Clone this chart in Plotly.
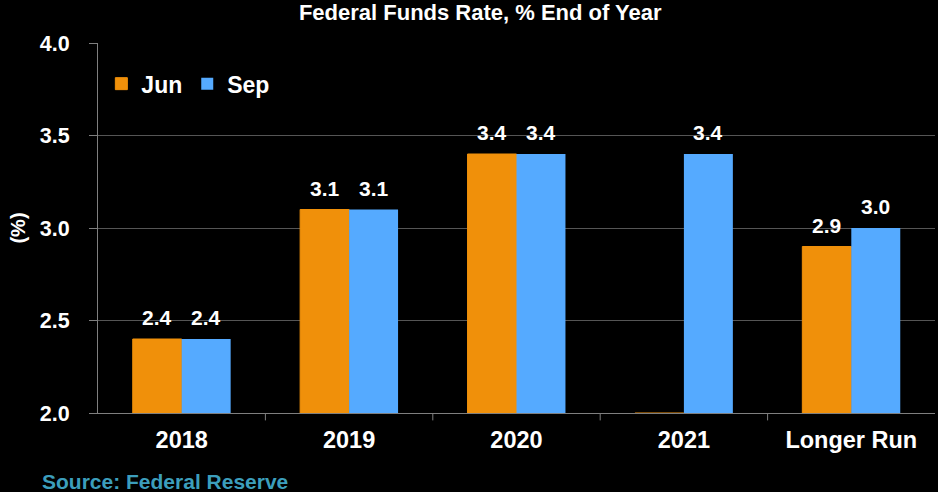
import plotly.graph_objects as go

categories = ["2018", "2019", "2020", "2021", "Longer Run"]
jun_values = [2.4, 3.1, 3.4, 2.0, 2.9]
jun_labels = ["2.4", "3.1", "3.4", "", "2.9"]
sep_values = [2.4, 3.1, 3.4, 3.4, 3.0]
sep_labels = ["2.4", "3.1", "3.4", "3.4", "3.0"]
y_ticks = [2.0, 2.5, 3.0, 3.5, 4.0]

ORANGE = "#F0900A"
BLUE = "#55AAFF"
FONT = "Liberation Sans, Arial, sans-serif"
BARGAP = 0.415

x_idx = list(range(len(categories)))
fig = go.Figure()
fig.add_trace(go.Bar(x=x_idx, y=jun_values, name="<b>Jun</b>", marker=dict(color=ORANGE, line=dict(color=ORANGE, width=1))))
fig.add_trace(go.Bar(x=x_idx, y=sep_values, name="<b>Sep</b>", marker=dict(color=BLUE, line=dict(width=0))))

half = (1 - BARGAP) / 4
annotations = []
for i, (v, t) in enumerate(zip(jun_values, jun_labels)):
    if t:
        annotations.append(dict(x=i - half, y=v, text=f"<b>{t}</b>", showarrow=False, yanchor="bottom", yshift=8,
                                font=dict(family=FONT, size=21, color="white")))
for i, (v, t) in enumerate(zip(sep_values, sep_labels)):
    if t:
        annotations.append(dict(x=i + half, y=v, text=f"<b>{t}</b>", showarrow=False, yanchor="bottom", yshift=8,
                                font=dict(family=FONT, size=21, color="white")))
annotations.append(dict(xref="paper", yref="paper", x=-0.0695, y=-0.186, xanchor="left", yanchor="middle",
                        text="<b>Source: Federal Reserve</b>", showarrow=False,
                        font=dict(family=FONT, size=21, color="#3C9EBC")))

fig.update_layout(
    width=938, height=492,
    paper_bgcolor="black", plot_bgcolor="black",
    margin=dict(l=98, r=3, t=43, b=79),
    barmode="group", bargap=BARGAP, bargroupgap=0,
    title=dict(text="<b>Federal Funds Rate, % End of Year</b>", x=0.512, xanchor="center", y=0.975, yanchor="middle",
               font=dict(family=FONT, size=22, color="white")),
    font=dict(family=FONT, color="white"),
    legend=dict(orientation="h", x=0.004, y=0.89, xanchor="left", yanchor="middle", bgcolor="rgba(0,0,0,0)",
                font=dict(family=FONT, size=23, color="white"), itemwidth=30, traceorder="normal"),
    annotations=annotations,
    showlegend=True,
)
fig.update_xaxes(
    tickmode="array", tickvals=x_idx, ticktext=[f"<b>{c}</b>" for c in categories],
    range=[-0.5, len(categories) - 0.5],
    showline=True, linecolor="#7f7f7f", linewidth=1,
    showgrid=False, ticks="", tickfont=dict(family=FONT, size=23.5, color="white"),
    ticklabelstandoff=6,
    layer="below traces", automargin=False,
)
fig.update_yaxes(
    range=[2.0, 4.0], tickmode="array", tickvals=y_ticks, ticktext=[f"<b>{v:.1f}</b>" for v in y_ticks],
    showline=True, linecolor="#7f7f7f", linewidth=1,
    showgrid=True, gridcolor="#555555", gridwidth=1, zeroline=False,
    ticks="outside", ticklen=8, tickcolor="#7f7f7f", ticklabelstandoff=15,
    tickfont=dict(family=FONT, size=21.5, color="white"), automargin=False,
    title=dict(text="<b>(%)</b>", font=dict(family=FONT, size=20, color="white"), standoff=8),
)
for k in range(1, len(categories)):
    fig.add_shape(type="line", xref="x", yref="paper", x0=k - 0.5, x1=k - 0.5, y0=0, y1=-0.02,
                  line=dict(color="#7f7f7f", width=1))

fig.write_html("out.html", config={"displayModeBar": False},
               post_script="document.body.style.margin='0';document.body.style.background='black';")
